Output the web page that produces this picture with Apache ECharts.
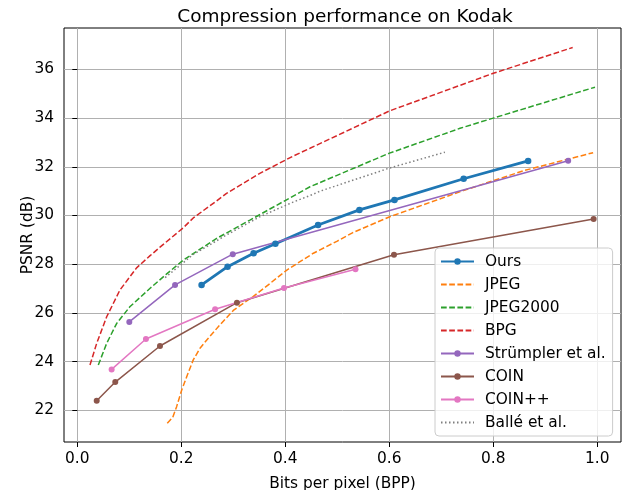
<!DOCTYPE html>
<html>
<head>
<meta charset="utf-8">
<script src="https://cdn.jsdelivr.net/npm/echarts@6/dist/echarts.min.js"></script>
<style>
  html, body { margin: 0; padding: 0; background: #fff; }
  #main { width: 624px; height: 490px; }
</style>
</head>
<body>
<div id="main"></div>
<script>
// tick labels
var xTicks = [0, 0.2, 0.4, 0.6, 0.8, 1.0]
var yTicks = [22, 24, 26, 28, 30, 32, 34, 36]

// [bpp, psnr]
var ours = [[0.239, 27.15], [0.289, 27.90], [0.339, 28.45], [0.381, 28.84], [0.463, 29.61],
  [0.5425, 30.23], [0.610, 30.64], [0.743, 31.51], [0.867, 32.24]]
var jpeg = [[0.173, 21.47], [0.1835, 21.71], [0.191, 22.15], [0.2008, 22.83], [0.2104, 23.38],
  [0.223, 24.07], [0.236, 24.55], [0.249, 24.89], [0.274, 25.5], [0.300, 26.1], [0.338, 26.67],
  [0.370, 27.2], [0.403, 27.76], [0.454, 28.45], [0.500, 28.95], [0.530, 29.3], [0.601, 29.95],
  [0.742, 31.02], [0.860, 31.85], [0.992, 32.58]]
var jpeg2000 = [[0.0404, 23.86], [0.0565, 24.75], [0.0758, 25.57], [0.101, 26.25], [0.14, 27.01],
  [0.172, 27.6], [0.204, 28.17], [0.268, 29.06], [0.332, 29.81], [0.396, 30.57], [0.4475, 31.18],
  [0.599, 32.55], [0.736, 33.58], [0.8, 34.0], [0.9956, 35.27]]
var bpg = [[0.0244, 23.86], [0.0373, 24.75], [0.0565, 25.84], [0.082, 26.94], [0.114, 27.85],
  [0.14, 28.35], [0.159, 28.7], [0.204, 29.5], [0.223, 29.9], [0.268, 30.6], [0.287, 30.91],
  [0.351, 31.73], [0.415, 32.44], [0.4475, 32.76], [0.601, 34.3], [0.8, 35.84], [0.9527, 36.9]]
var strumpler = [[0.100, 25.63], [0.188, 27.15], [0.299, 28.41], [0.944, 32.25]]
var coin = [[0.0373, 22.39], [0.073, 23.16], [0.159, 24.64], [0.307, 26.42], [0.609, 28.39], [0.993, 29.86]]
var coinpp = [[0.066, 23.68], [0.132, 24.93], [0.265, 26.15], [0.3975, 27.02], [0.535, 27.79]]
var balle = [[0.169, 27.45], [0.223, 28.4], [0.287, 29.2], [0.351, 29.95], [0.415, 30.55],
  [0.4475, 30.82], [0.467, 31.0], [0.599, 31.94], [0.707, 32.6]]

var font = 'DejaVu Sans'
var fs = 15.4
var dash = [5.7, 2.5]
var dot = [1.5, 2.5]

function markerLine(name, data, color, width, size) {
  return {
    name: name, type: 'line', data: data,
    symbol: 'circle', symbolSize: size,
    itemStyle: { color: color },
    lineStyle: { color: color, width: width },
    emphasis: { disabled: true }
  }
}
function plainLine(name, data, color, type) {
  return {
    name: name, type: 'line', data: data,
    symbol: 'none', showSymbol: false,
    itemStyle: { color: color },
    lineStyle: { color: color, width: 1.5, type: type },
    emphasis: { disabled: true }
  }
}

// legend entries; the ones without markers hide the legend dot
var legendNames = ['Ours', 'JPEG', 'JPEG2000', 'BPG', 'Strümpler et al.', 'COIN', 'COIN++', 'Ballé et al.']
var noMarker = ['JPEG', 'JPEG2000', 'BPG', 'Ballé et al.']

var chart = echarts.init(document.getElementById('main'))
var option = {
  animation: false,
  title: {
    text: 'Compression performance on Kodak',
    left: 340, top: 3, textAlign: 'center',
    textStyle: { fontFamily: font, fontSize: 18.5, fontWeight: 'normal', color: '#000' }
  },
  grid: {
    left: 64, right: 3, top: 28, bottom: 48,
    outerBoundsMode: 'none',
    show: true, borderColor: '#000', borderWidth: 1
  },
  xAxis: {
    type: 'value', min: -0.02558, max: 1.0456,
    name: 'Bits per pixel (BPP)', nameLocation: 'middle', nameGap: 34, nameMoveOverlap: false,
    nameTextStyle: { fontFamily: font, fontSize: fs, color: '#000' },
    axisLine: { show: false },
    axisTick: { show: true, length: 5, customValues: xTicks, lineStyle: { color: '#000', width: 1 } },
    axisLabel: {
      customValues: xTicks, margin: 9,
      fontFamily: font, fontSize: fs, color: '#000',
      formatter: function (v) { return v.toFixed(1) }
    },
    splitLine: { show: true, lineStyle: { color: '#b0b0b0', width: 1 } }
  },
  yAxis: {
    type: 'value', min: 20.698, max: 37.70,
    name: 'PSNR (dB)', nameLocation: 'middle', nameGap: 29, nameMoveOverlap: false,
    nameTextStyle: { fontFamily: font, fontSize: fs, color: '#000' },
    axisLine: { show: false },
    axisTick: { show: true, length: 5, customValues: yTicks, lineStyle: { color: '#000', width: 1 } },
    axisLabel: { customValues: yTicks, margin: 10, fontFamily: font, fontSize: fs, color: '#000' },
    splitLine: { show: true, lineStyle: { color: '#b0b0b0', width: 1 } }
  },
  legend: {
    orient: 'vertical', left: 435, top: 248,
    itemWidth: 33, itemHeight: 8, itemGap: 8,
    padding: [6, 7, 6, 5],
    selectedMode: false,
    backgroundColor: 'rgba(255,255,255,0.8)',
    borderColor: '#cccccc', borderWidth: 1, borderRadius: 4,
    formatter: '{s| }{name}',
    textStyle: {
      fontFamily: font, fontSize: fs, color: '#000',
      rich: { s: { width: 6, fontFamily: font, fontSize: fs } }
    },
    data: legendNames.map(function (n) {
      return noMarker.indexOf(n) >= 0 ? { name: n, itemStyle: { opacity: 0 } } : { name: n }
    })
  },
  series: [
    markerLine('Ours', ours, '#1f77b4', 2.8, 6.5),
    plainLine('JPEG', jpeg, '#ff7f0e', dash),
    plainLine('JPEG2000', jpeg2000, '#2ca02c', dash),
    plainLine('BPG', bpg, '#d62728', dash),
    markerLine('Strümpler et al.', strumpler, '#9467bd', 1.5, 6),
    markerLine('COIN', coin, '#8c564b', 1.5, 6),
    markerLine('COIN++', coinpp, '#e377c2', 1.5, 6),
    plainLine('Ballé et al.', balle, '#7f7f7f', dot)
  ]
}
chart.setOption(option)
</script>
</body>
</html>
